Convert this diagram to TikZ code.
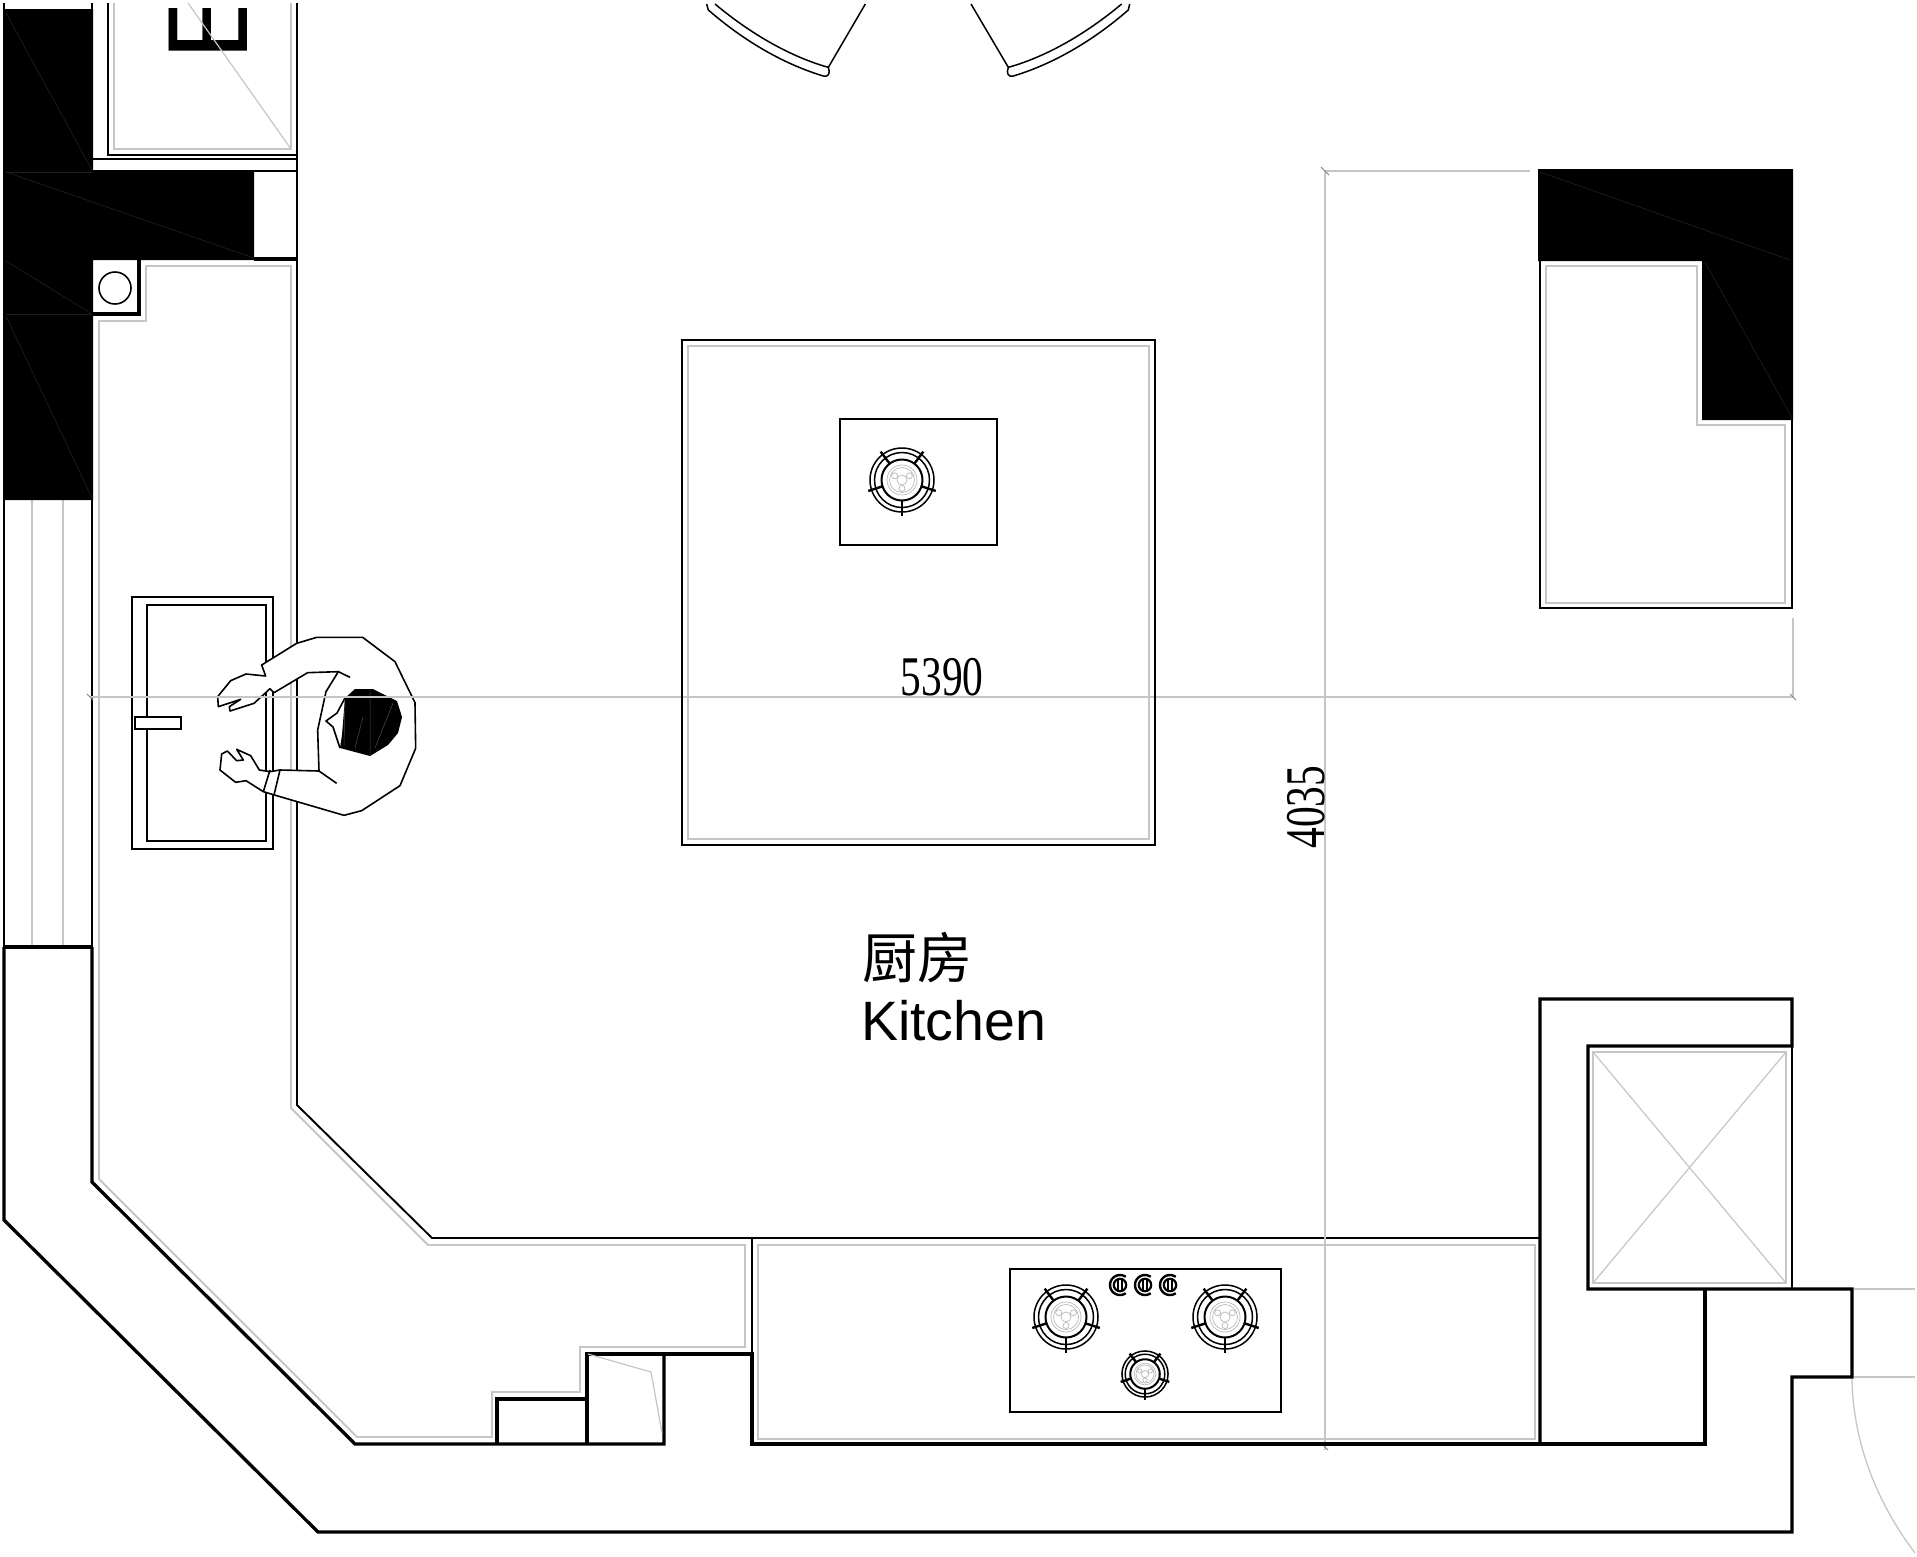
\documentclass[tikz,border=0pt]{standalone}
\usepackage{fontspec}
\setmainfont{Liberation Sans}
\newfontfamily\numfont{Liberation Serif}
\newfontfamily\cjkfont{Noto Sans CJK SC}
\definecolor{gl}{HTML}{C6C6C6}
\definecolor{hair}{HTML}{1E1E1E}
\tikzset{
  thickwall/.style={black,line width=3.3pt,line join=miter},
  thinline/.style={black,line width=1.9pt,line join=miter},
  greyline/.style={gl,line width=1.8pt,line join=miter},
  hairgrey/.style={gl,line width=1.2pt},
  dimline/.style={gl,line width=1.1pt},
  hairline/.style={hair,line width=.7pt},
  burnerline/.style={black,line width=1.5pt},
  burnertick/.style={black,line width=2.4pt},
  burnergrey/.style={gray!55,line width=.7pt}
}
\newcommand{\burnerat}[3]{%
  \begin{scope}[shift={(#1,#2)},scale=#3]
    \draw[burnerline] (0,0) circle (32) (0,0) circle (27.5);
    \draw[burnerline,line width=2pt] (0,0) circle (20.5);
    \foreach \a in {53,127,198,270,342}
      \draw[burnertick] ({20*cos(\a)},{-20*sin(\a)}) -- ({35.5*cos(\a)},{-35.5*sin(\a)});
    \draw[burnergrey] (0,0) circle (15) (0,0) circle (12.5) (0,0) circle (5);
    \foreach \a in {30,150,270}
      \draw[burnergrey] ({8.5*cos(\a)},{-8.5*sin(\a)}) circle (3);
  \end{scope}}
\newcommand{\knobat}[2]{%
  \begin{scope}[shift={(#1,#2)}]
    \draw[black,line width=2.2pt] (0,0) circle (6.2);
    \draw[black,line width=1.8pt] (-1.8,-5.5) -- (-1.8,5.5) (1.8,-5.5) -- (1.8,5.5);
    \draw[black,line width=2.4pt] plot[domain=55:305,samples=24] ({10*cos(\x)},{-10*sin(\x)});
  \end{scope}}
\begin{document}
\begin{tikzpicture}[x=1pt,y=-1pt]
\useasboundingbox (0,0) rectangle (1917,1556);
\fill[white] (0,0) rectangle (1917,1556);

% ---- upper-left cabinet with clipped letter
\draw[thinline] (108,3) -- (108,155) -- (297,155);
\draw[greyline] (114,3) -- (114,149) -- (291,149) -- (291,3);
\begin{scope}
  \clip (150,8) rectangle (260,60);
  \node[rotate=90,anchor=base west,inner sep=0pt,font=\fontsize{114}{114}\selectfont] (letterE) at (247,61) {E};
\end{scope}
\draw[hairgrey] (188,3) -- (291,149);

% ---- grey inset of the counter run
\draw[greyline] (99,500) -- (99,321) -- (146,321) -- (146,266) -- (291,266) -- (291,1108) -- (428,1245)
  -- (745,1245) -- (745,1347) -- (580,1347) -- (580,1392) -- (492,1392) -- (492,1437) -- (357,1437) -- (99,1179) -- cycle;
\draw[greyline] (758,1245) rectangle (1535,1439);
\draw[greyline] (1546,266) -- (1697,266) -- (1697,425) -- (1785,425) -- (1785,603) -- (1546,603) -- cycle;

% ---- thin black lines
\draw[thinline] (297,3) -- (297,1105) -- (432,1238) -- (1540,1238);
\draw[thinline] (93,159) -- (297,159);
\draw[thinline] (254,171) -- (297,171);
\draw[thinline] (752,1238) -- (752,1354);
\draw[thinline] (1540,261) -- (1540,608) -- (1792,608) -- (1792,420);
\draw[thinline] (1792,1046) -- (1792,1289);
\draw[thinline] (4,500) -- (4,947);
\draw[thinline] (92,500) -- (92,947);
\draw[greyline] (32,500) -- (32,947);
\draw[greyline] (63,500) -- (63,947);

% ---- solid walls
\fill[black] (3,9) -- (93,9) -- (93,170) -- (254,170) -- (254,260) -- (93,260) -- (93,500) -- (3,500) -- cycle;
\draw[thinline] (4,3) -- (4,10);
\draw[thinline] (92,3) -- (92,10);
\draw[hairline] (6,13) -- (92,170);
\draw[hairline] (6,172) -- (92,172);
\draw[hairline] (6,172) -- (254,258);
\draw[hairline] (6,261) -- (92,314);
\draw[hairline] (6,314) -- (92,314);
\draw[hairline] (6,316) -- (92,498);
\fill[black] (1538,169) -- (1793,169) -- (1793,420) -- (1702,420) -- (1702,261) -- (1538,261) -- cycle;
\draw[hairline] (1540,172) -- (1790,260);
\draw[hairline] (1705,262) -- (1792,418);
\draw[thickwall] (254,259) -- (297,259);
\draw[thickwall] (93,314) -- (139,314) -- (139,260);
\draw[black,line width=1.6pt] (115,288) circle (16);

% ---- sink
\draw[thinline] (132,597) rectangle (273,849);
\draw[thinline] (147,605) rectangle (266,841);
\draw[thinline,fill=white] (135,717) rectangle (181,729);

% ---- person
\begin{scope}[shift={(120,590)},x=.33333pt,y=-.33333pt]
  \draw[black,line width=1.6pt,fill=white,line join=round]
    (425,225) -- (530,160) -- (590,142) -- (728,142) -- (825,215) -- (885,338) -- (887,475) -- (840,587)
    -- (725,662) -- (672,676) -- (470,617) -- (430,605) -- (378,572) -- (347,577) -- (300,540) -- (305,492)
    -- (322,483) -- (350,512) -- (370,510) -- (350,478) -- (392,497) -- (418,540) -- (450,545) -- (480,540)
    -- (597,543) -- (593,420) -- (618,305) -- (655,245) -- (563,248) -- (462,308) -- (450,296) -- (435,310)
    -- (402,340) -- (330,363) -- (328,350) -- (362,328) -- (295,350) -- (293,320) -- (332,272) -- (378,252)
    -- (437,258) -- cycle;
  \draw[black,line width=1.6pt] (597,543) -- (650,580);
  \draw[black,line width=1.6pt] (655,245) -- (690,262);
  \draw[black,line width=1.6pt] (450,540) -- (430,605);
  \draw[black,line width=1.6pt] (480,540) -- (462,615);
\end{scope}
\fill[black] (345,698) -- (355,689) -- (373,689) -- (397,701) -- (402,717) -- (398,733) -- (388,745) -- (370,756) -- (340,748) -- (342,735) -- cycle;
\draw[black,line width=1.6pt,line join=round] (345,698) -- (337,713) -- (326,721) -- (333,727) -- (340,748);
\draw[black!70,line width=.5pt] (370,692) -- (370,755) (345,700) -- (344,746) (393,703) -- (375,748) (363,717) -- (355,748);

% ---- dimensions
\draw[dimline] (90,697) -- (1793,697);
\draw[dimline] (1325,171) -- (1530,171);
\draw[dimline] (1325,171) -- (1325,1450);
\draw[dimline] (1793,618) -- (1793,697);
\draw[gray,line width=1pt] (87,694) -- (93,700);
\draw[gray,line width=1pt] (1321,167) -- (1329,175);
\draw[gray,line width=1pt] (1790,694) -- (1796,700);
\draw[gray,line width=1pt] (1322,1444) -- (1328,1450);
\node[inner sep=0pt,font=\numfont\fontsize{56}{56}\selectfont] (dimA) at (942,677) {\scalebox{.74}[1]{5390}};
\node[inner sep=0pt,rotate=90,font=\numfont\fontsize{56}{56}\selectfont] (dimB) at (1306,807) {\scalebox{.74}[1]{4035}};

% ---- island
\draw[thinline] (682,340) rectangle (1155,845);
\draw[greyline] (688,346) rectangle (1149,839);
\draw[thinline] (840,419) rectangle (997,545);
\burnerat{902}{480}{1}

% ---- labels
\node[inner sep=0pt,font=\cjkfont\fontsize{55}{55}\selectfont] (roomcn) at (917,958) {厨房};
\node[inner sep=0pt,anchor=base west,font=\fontsize{55.5}{56}\selectfont] (roomen) at (861,1040) {Kitchen};

% ---- flue
\draw[greyline] (1593,1052) rectangle (1786,1283);
\draw[hairgrey] (1593,1052) -- (1786,1283);
\draw[hairgrey] (1786,1052) -- (1593,1283);

% ---- hob
\draw[thinline] (1010,1269) rectangle (1281,1412);
\burnerat{1066}{1317}{1}
\burnerat{1225}{1317}{1}
\burnerat{1145}{1374}{.72}
\knobat{1120}{1285}
\knobat{1145}{1285}
\knobat{1170}{1285}

% ---- thick outline walls
\draw[thickwall] (4,947) -- (92,947);
\draw[thickwall] (4,947) -- (4,1220) -- (318,1532) -- (1792,1532) -- (1792,1377) -- (1852,1377) -- (1852,1289)
  -- (1588,1289) -- (1588,1046) -- (1792,1046) -- (1792,999) -- (1540,999) -- (1540,1444);
\draw[thickwall] (1705,1289) -- (1705,1444) -- (752,1444) -- (752,1354) -- (587,1354) -- (587,1444);
\draw[thickwall] (664,1354) -- (664,1444) -- (355,1444) -- (92,1182) -- (92,947);
\draw[thickwall] (497,1444) -- (497,1399) -- (587,1399);
\draw[hairgrey] (588,1354) -- (651,1372) -- (662,1433);

% ---- door on the right
\draw[hairgrey] (1854,1289) -- (1915,1289);
\draw[hairgrey] (1854,1377) -- (1915,1377);
\draw[gl,line width=1.3pt] (1852,1379) .. controls (1853,1440) and (1875,1500) .. (1915,1553);

% ---- arcs at the top
\begin{scope}[shift={(680,0)},x=.33333pt,y=-.33333pt]
  \draw[black,line width=1.5pt,line join=round] (80,12) -- (85,30) .. controls (200,130) and (320,195) .. (430,228)
     .. controls (445,232) and (452,220) .. (445,202) .. controls (330,170) and (210,100) .. (105,12);
  \draw[black,line width=1.5pt] (445,202) -- (556,12);
  \draw[black,line width=1.5pt,line join=round] (1349,12) -- (1345,30) .. controls (1230,130) and (1110,195) .. (1000,228)
     .. controls (985,232) and (978,220) .. (985,202) .. controls (1100,170) and (1220,100) .. (1325,12);
  \draw[black,line width=1.5pt] (985,202) -- (873,12);
\end{scope}
\end{tikzpicture}
\end{document}
